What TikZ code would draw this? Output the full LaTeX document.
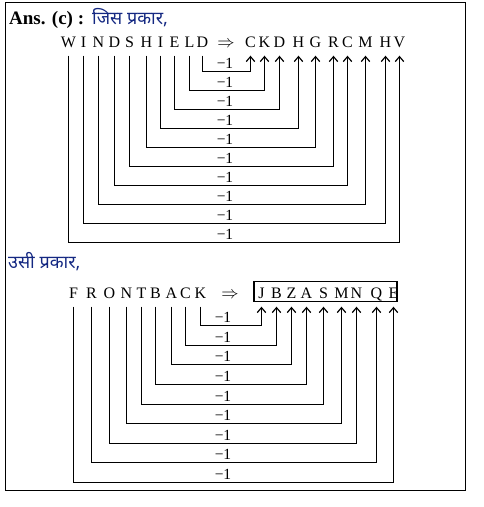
\documentclass[tikz,border=0pt]{standalone}
\usepackage{fontspec}
\setmainfont{Liberation Serif}
\newfontfamily\hindi[Script=Devanagari]{Noto Sans}
\usetikzlibrary{arrows.meta,calc}
\definecolor{hblue}{RGB}{20,40,130}
\begin{document}
\begin{tikzpicture}[x=1pt,y=-1pt,
  ltr/.style={anchor=base,inner sep=0pt,text depth=8.5pt,font=\fontsize{16}{18}\selectfont},
  minus/.style={inner sep=0pt,font=\fontsize{15.5}{17}\selectfont},
  conn/.style={line width=1.2pt},
  arr/.style={conn,-{Straight Barb[length=5pt,width=8.5pt,line width=1.2pt]}},
  htext/.style={anchor=base west,inner sep=0pt,text=hblue,font=\fontsize{18}{20}\hindi}]
\useasboundingbox (0,0) rectangle (484,507);
\draw[line width=1.2pt] (5.5,2.5) rectangle (465.5,490.5);
% headings
\node[anchor=base west,inner sep=0pt,font=\fontsize{19}{21}\selectfont\bfseries] (ans) at (9,24) {Ans. (c) :};
\node[htext] (h1) at (92,24) {जिस प्रकार,};
\node[htext] (h2) at (8,268) {उसी प्रकार,};
% top row
\foreach \n/\x/\t in {1/68.5/W,2/83.5/I,3/98.5/N,4/114.5/D,5/129.5/S,6/146.5/H,7/160.5/I,8/174.5/E,9/189.5/L,10/202.5/D}
  \node[ltr] (a\n) at (\x,47) {\t};
\node[ltr] (ar1) at (226,47) {$\Rightarrow$};
\foreach \n/\x/\t in {1/250.5/C,2/264.5/K,3/279.5/D,4/298.5/H,5/315.5/G,6/333.5/R,7/347.5/C,8/365.5/M,9/385.5/H,10/399.5/V}
  \node[ltr] (b\n) at (\x,47) {\t};
\foreach \k in {1,...,10}{
  \pgfmathtruncatemacro{\src}{11-\k}
  \pgfmathsetmacro{\lev}{71.5+19*(\k-1)}
  \coordinate (ta\k) at (0,\lev);
  \draw[arr] (a\src.south) -- (a\src.south |- ta\k) -- (b\k.south |- ta\k) -- (b\k.south);
  \node[minus] (ma\k) at (225,\lev-8) {−1};
}
% bottom row
\foreach \n/\x/\t in {1/73.5/F,2/91.5/R,3/109.5/O,4/126.5/N,5/141.5/T,6/155.5/B,7/171.5/A,8/185.5/C,9/200.5/K}
  \node[ltr] (c\n) at (\x,298) {\t};
\node[ltr] (ar2) at (230,298) {$\Rightarrow$};
\foreach \n/\x/\t in {1/261.5/J,2/276.5/B,3/291.5/Z,4/306.5/A,5/323.5/S,6/341.5/M,7/356.5/N,8/376.5/Q,9/393.5/E}
  \node[ltr] (d\n) at (\x,298) {\t};
\node[draw,line width=1.2pt,minimum width=143pt,minimum height=20pt,inner sep=0pt] (box) at (325.5,291.5) {};
\foreach \k/\lev in {1/325.5,2/345.5,3/364.5,4/384.5,5/404.5,6/423.5,7/443.5,8/462.5,9/482.5}{
  \pgfmathtruncatemacro{\src}{10-\k}
  \coordinate (tb\k) at (0,\lev);
  \draw[arr] (c\src.south) -- (c\src.south |- tb\k) -- (d\k.south |- tb\k) -- (d\k.south);
  \node[minus] (mb\k) at (223,\lev-8) {−1};
}
\end{tikzpicture}
\end{document}
